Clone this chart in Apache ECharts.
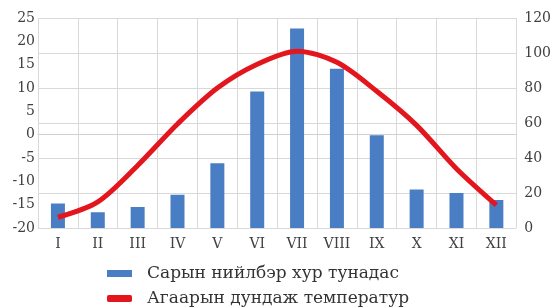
<!DOCTYPE html>
<html><head><meta charset="utf-8">
<script src="https://cdn.jsdelivr.net/npm/echarts@6/dist/echarts.min.js"></script>
<style>html,body{margin:0;padding:0;background:#fff}#c{width:554px;height:307px}</style>
</head><body><div id="c"></div>
<script>
const months = ['I','II','III','IV','V','VI','VII','VIII','IX','X','XI','XII'];
const precipitation = [14, 9, 12, 19, 37, 78, 114, 91, 53, 22, 20, 16];
const temperature = [-17.7, -14.4, -6.6, 2.3, 10, 15.1, 17.9, 15.5, 9.3, 2, -7.3, -15.1];
const precipName = 'Сарын нийлбэр хур тунадас';
const tempName = 'Агаарын дундаж температур';

const chart = echarts.init(document.getElementById('c'));
const serif = 'DejaVu Serif';
const legendText = {fontFamily: serif, fontSize: 17, color: '#333', padding: [0, 0, 0, 10]};
chart.setOption({
  animation: false,
  grid: {left: 38, right: 37, top: 18, bottom: 79},
  legend: [
    {left: 107, top: 265, padding: 0, itemWidth: 25, itemHeight: 7,
     textStyle: legendText, data: [{name: precipName, icon: 'rect'}]},
    {left: 107, top: 290, padding: 0, itemWidth: 25, itemHeight: 7,
     textStyle: legendText, data: [{name: tempName, icon: 'roundRect'}]}
  ],
  xAxis: {
    type: 'category', data: months, boundaryGap: true,
    axisLine: {lineStyle: {color: '#d0d0d0'}},
    axisTick: {show: false},
    axisLabel: {fontFamily: serif, fontSize: 14, color: '#404040', margin: 9},
    splitLine: {show: true, lineStyle: {color: '#d9d9d9'}}
  },
  yAxis: [
    {type: 'value', min: -20, max: 25, interval: 5,
     axisLine: {show: false}, axisTick: {show: false}, splitLine: {show: false},
     axisLabel: {fontFamily: serif, fontSize: 14, color: '#404040', margin: 3}},
    {type: 'value', min: 0, max: 120, interval: 20, position: 'right',
     axisLine: {show: false}, axisTick: {show: false},
     splitLine: {show: true, lineStyle: {color: '#d9d9d9'}},
     axisLabel: {fontFamily: serif, fontSize: 14, color: '#404040', margin: 8}}
  ],
  series: [
    {name: precipName, type: 'bar', yAxisIndex: 1, data: precipitation, barWidth: 14,
     itemStyle: {color: '#4a7ec4'}},
    {name: tempName, type: 'line', yAxisIndex: 0, data: temperature, smooth: 0.3,
     symbol: 'none', lineStyle: {color: '#e3161d', width: 5}, itemStyle: {color: '#e3161d'}}
  ]
});
</script></body></html>
